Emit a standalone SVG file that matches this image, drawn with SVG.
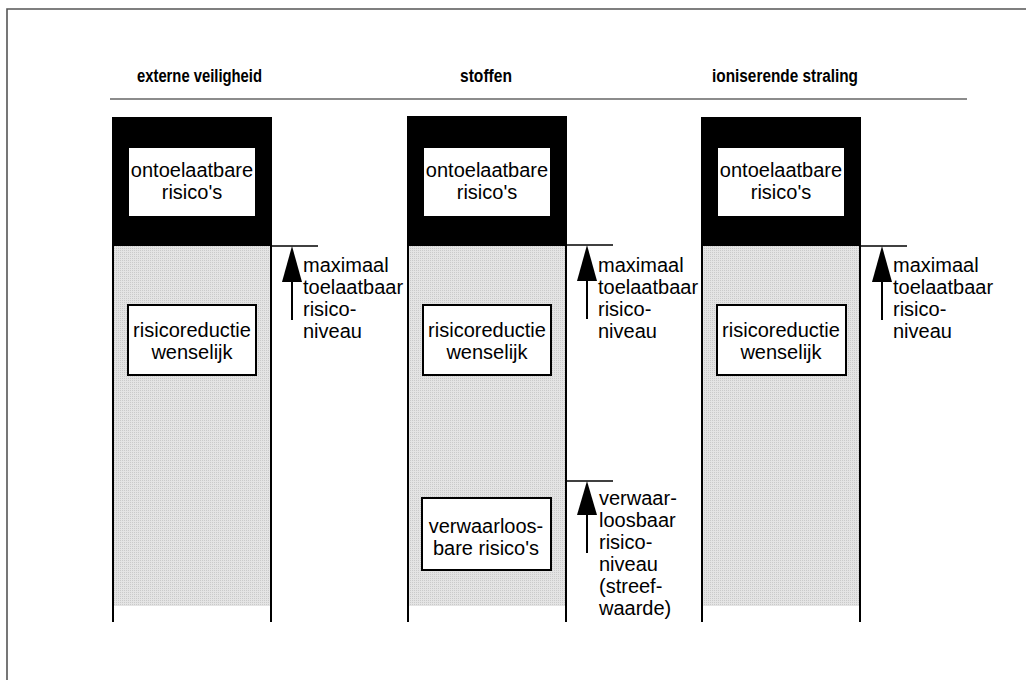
<svg xmlns="http://www.w3.org/2000/svg" width="1026" height="680" viewBox="0 0 1026 680">
  <defs>
    <!-- fine dotted screen used for the acceptable-risk band -->
    <pattern id="dots" width="2" height="2" patternUnits="userSpaceOnUse">
      <rect width="2" height="2" fill="#e4e4e4"/>
      <rect width="1" height="1" fill="#cacaca"/>
    </pattern>
    <style>
      .hdr { font-family: "Liberation Sans", Arial, sans-serif; font-weight: bold; font-size: 18px; fill: #000; }
      .lbl { font-family: "Liberation Sans", Arial, sans-serif; font-size: 20px; fill: #000; }
      .mid { text-anchor: middle; }
      .side { stroke: #000; stroke-width: 2; fill: none; }
      .box { fill: #fff; stroke: #000; stroke-width: 2; }
      .tick { stroke: #000; stroke-width: 1.5; fill: none; }
      .stem { stroke: #000; stroke-width: 2; fill: none; }
      .head { fill: #000; }
    </style>
  </defs>

  <rect width="1026" height="680" fill="#fff"/>

  <!-- outer frame -->
  <path d="M7 680 V9 H1026" fill="none" stroke="#555" stroke-width="1.6"/>

  <!-- column headings (condensed bold) -->
  <g id="headings">
    <text class="hdr" x="137" y="82" textLength="125" lengthAdjust="spacingAndGlyphs">externe veiligheid</text>
    <text class="hdr" x="460" y="82" textLength="52" lengthAdjust="spacingAndGlyphs">stoffen</text>
    <text class="hdr" x="712" y="82" textLength="146" lengthAdjust="spacingAndGlyphs">ioniserende straling</text>
    <line x1="110" y1="99" x2="967" y2="99" stroke="#666" stroke-width="1.5"/>
  </g>

  <!-- column: externe veiligheid -->
  <g id="col-externe-veiligheid">
    <rect x="112" y="246" width="160" height="360" fill="url(#dots)"/>
    <rect x="112" y="117" width="160" height="129" fill="#000"/>
    <line class="side" x1="113" y1="117" x2="113" y2="622"/>
    <line class="side" x1="271" y1="117" x2="271" y2="622"/>
    <rect x="129" y="148" width="126" height="68" fill="#fff"/>
    <text class="lbl mid" x="192" y="177">ontoelaatbare</text>
    <text class="lbl mid" x="192" y="199">risico's</text>
    <rect class="box" x="128" y="305" width="128" height="70"/>
    <text class="lbl mid" x="192" y="337">risicoreductie</text>
    <text class="lbl mid" x="192" y="359">wenselijk</text>
  </g>

  <!-- column: stoffen -->
  <g id="col-stoffen">
    <rect x="407" y="246" width="160" height="360" fill="url(#dots)"/>
    <rect x="407" y="116" width="160" height="130" fill="#000"/>
    <line class="side" x1="408" y1="116" x2="408" y2="622"/>
    <line class="side" x1="566" y1="116" x2="566" y2="622"/>
    <rect x="424" y="148" width="126" height="68" fill="#fff"/>
    <text class="lbl mid" x="487" y="177">ontoelaatbare</text>
    <text class="lbl mid" x="487" y="199">risico's</text>
    <rect class="box" x="423" y="305" width="128" height="70"/>
    <text class="lbl mid" x="487" y="337">risicoreductie</text>
    <text class="lbl mid" x="487" y="359">wenselijk</text>
    <rect class="box" x="422" y="498" width="129" height="72"/>
    <text class="lbl mid" x="486" y="533">verwaarloos-</text>
    <text class="lbl mid" x="486" y="555">bare risico's</text>
  </g>

  <!-- column: ioniserende straling -->
  <g id="col-ioniserende-straling">
    <rect x="701" y="246" width="160" height="360" fill="url(#dots)"/>
    <rect x="701" y="117" width="160" height="129" fill="#000"/>
    <line class="side" x1="702" y1="117" x2="702" y2="622"/>
    <line class="side" x1="860" y1="117" x2="860" y2="622"/>
    <rect x="718" y="148" width="126" height="68" fill="#fff"/>
    <text class="lbl mid" x="781" y="177">ontoelaatbare</text>
    <text class="lbl mid" x="781" y="199">risico's</text>
    <rect class="box" x="717" y="305" width="129" height="70"/>
    <text class="lbl mid" x="781" y="337">risicoreductie</text>
    <text class="lbl mid" x="781" y="359">wenselijk</text>
  </g>

  <!-- level markers: tick, upward arrow -->
  <g id="connectors">
    <line class="tick" x1="272" y1="246" x2="318" y2="246"/>
    <polygon class="head" points="292,246 282,282 302,282"/>
    <line class="stem" x1="292" y1="281" x2="292" y2="320"/>

    <line class="tick" x1="567" y1="245" x2="613" y2="245"/>
    <polygon class="head" points="587,245 577,281 597,281"/>
    <line class="stem" x1="587" y1="280" x2="587" y2="319"/>

    <line class="tick" x1="861" y1="246" x2="907" y2="246"/>
    <polygon class="head" points="882,246 872,282 892,282"/>
    <line class="stem" x1="882" y1="281" x2="882" y2="320"/>

    <line class="tick" x1="567" y1="481" x2="613" y2="481"/>
    <polygon class="head" points="587,481 577,515 597,515"/>
    <line class="stem" x1="587" y1="514" x2="587" y2="553"/>
  </g>

  <!-- marker labels -->
  <g id="label-max-1">
    <text class="lbl" x="303" y="272">maximaal</text>
    <text class="lbl" x="303" y="294">toelaatbaar</text>
    <text class="lbl" x="303" y="316">risico-</text>
    <text class="lbl" x="303" y="338">niveau</text>
  </g>
  <g id="label-max-2">
    <text class="lbl" x="598" y="272">maximaal</text>
    <text class="lbl" x="598" y="294">toelaatbaar</text>
    <text class="lbl" x="598" y="316">risico-</text>
    <text class="lbl" x="598" y="338">niveau</text>
  </g>
  <g id="label-max-3">
    <text class="lbl" x="893" y="272">maximaal</text>
    <text class="lbl" x="893" y="294">toelaatbaar</text>
    <text class="lbl" x="893" y="316">risico-</text>
    <text class="lbl" x="893" y="338">niveau</text>
  </g>
  <g id="label-verwaarloosbaar">
    <text class="lbl" x="599" y="505">verwaar-</text>
    <text class="lbl" x="599" y="527">loosbaar</text>
    <text class="lbl" x="599" y="549">risico-</text>
    <text class="lbl" x="599" y="571">niveau</text>
    <text class="lbl" x="599" y="593">(streef-</text>
    <text class="lbl" x="599" y="615">waarde)</text>
  </g>
</svg>
